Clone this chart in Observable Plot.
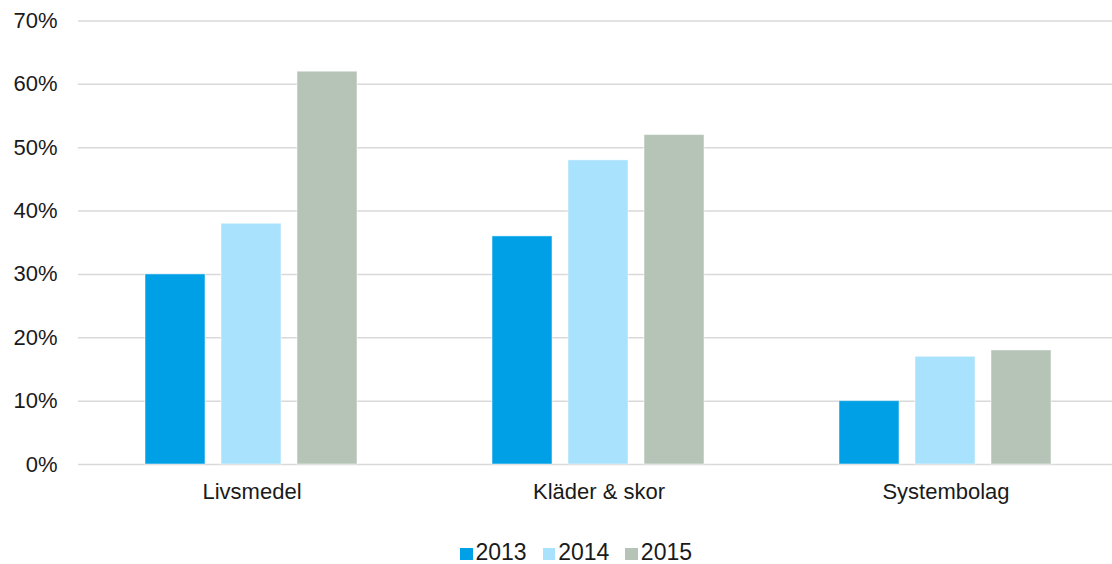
<!DOCTYPE html>
<html>
<head>
<meta charset="utf-8">
<script src="https://cdn.jsdelivr.net/npm/d3@7"></script>
<script src="https://cdn.jsdelivr.net/npm/@observablehq/plot@0.6"></script>
<style>
  html, body { margin: 0; padding: 0; background: #fff; }
  #wrap { position: relative; width: 1112px; height: 564px; overflow: hidden; font-family: "Liberation Sans", Arial, sans-serif; }
  #legend { position: absolute; left: 460px; top: 541px; display: flex; align-items: center; font-size: 23px; color: #1a1a1a; line-height: 1; }
  #legend .item { display: flex; align-items: center; margin-right: 16px; }
  #legend .sw { width: 12.5px; height: 12px; margin-right: 3px; margin-top: 2px; }
</style>
</head>
<body>
<div id="wrap"><div id="chart"></div><div id="legend"></div></div>
<script>
const categories = ["Livsmedel", "Kläder & skor", "Systembolag"];
const years = ["2013", "2014", "2015"];
const values2013 = [30, 36, 10];
const values2014 = [38, 48, 17];
const values2015 = [62, 52, 18];
const colors = ["#00A0E6", "#A8E2FD", "#B5C4B7"];
const yTicks = [0, 10, 20, 30, 40, 50, 60, 70];

const seriesValues = [values2013, values2014, values2015];
const data = [];
categories.forEach((c, i) => {
  years.forEach((y, j) => data.push({category: c, year: y, value: seriesValues[j][i]}));
});

const chart = Plot.plot({
  width: 1112,
  height: 530,
  marginLeft: 77,
  marginRight: 0,
  marginTop: 20.5,
  marginBottom: 66,
  style: {fontFamily: "'Liberation Sans', Arial, sans-serif", fontSize: "22px", color: "#1a1a1a", background: "transparent"},
  fx: {domain: categories, range: [77, 1120], padding: 0, label: null, tickSize: 0, tickPadding: 19, axis: "bottom"},
  x: {domain: years, axis: null, paddingInner: 0.208, paddingOuter: 0.86},
  y: {domain: [0, 70], ticks: yTicks, tickFormat: d => d + "%", tickSize: 0, tickPadding: 21, label: null},
  color: {domain: years, range: colors},
  marks: [
    Plot.ruleY(yTicks, {stroke: "#d9d9d9", strokeWidth: 1.5}),
    Plot.barY(data, {fx: "category", x: "year", y: "value", fill: "year", stroke: "#ffffff", strokeOpacity: 0.5, strokeWidth: 1})
  ]
});
document.getElementById("chart").appendChild(chart);

const legend = document.getElementById("legend");
years.forEach((y, i) => {
  const item = document.createElement("div");
  item.className = "item";
  const sw = document.createElement("div");
  sw.className = "sw";
  sw.style.background = colors[i];
  const t = document.createElement("span");
  t.textContent = y;
  item.appendChild(sw);
  item.appendChild(t);
  legend.appendChild(item);
});
</script>
</body>
</html>
